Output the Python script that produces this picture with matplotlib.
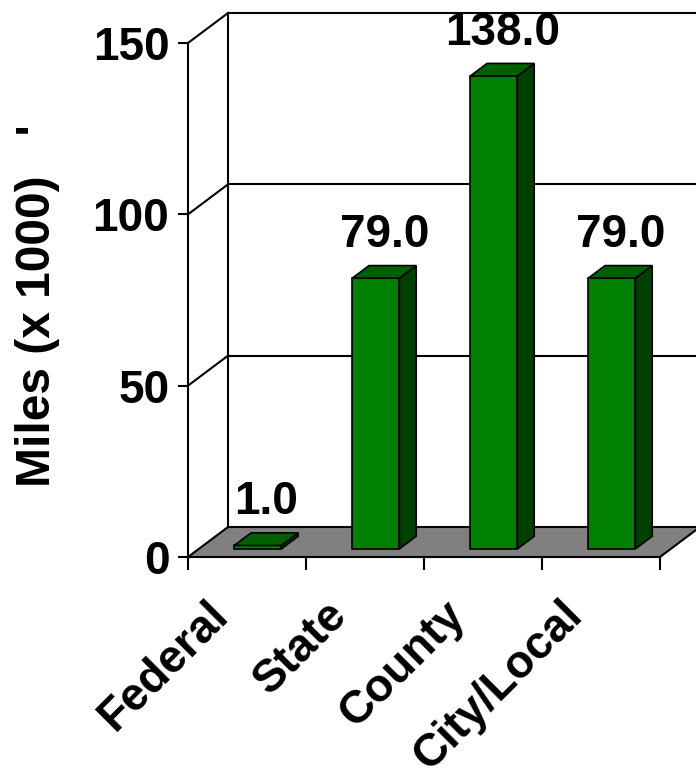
import matplotlib
matplotlib.use("Agg")
import matplotlib.pyplot as plt
from matplotlib.patches import Polygon
from matplotlib.ticker import FixedLocator, NullFormatter

# Road mileage by jurisdiction
categories = ["Federal", "State", "County", "City/Local"]
miles_k = [1.0, 79.0, 138.0, 79.0]
yticks = [0, 50, 100, 150]

FONT = "Liberation Sans"
FS = 33
FRONT = "#008000"
TOP = "#006000"
SIDE = "#004000"
FLOOR = "#808080"

W, H, DPI = 696, 771, 100
fig = plt.figure(figsize=(W / DPI, H / DPI), dpi=DPI)
fig.patch.set_facecolor("white")

# front plane of the oblique 3-D box
ax = fig.add_axes([188 / W, (H - 557) / H, 472 / W, 514 / H])
ax.set_xlim(-0.5, len(categories) - 0.5)
ax.set_ylim(0, 150)
ax.set_facecolor("none")

# depth of the box expressed in data units (40 px right, 30 px up)
px_x = 472 / len(categories)
px_y = 514 / 150
DX, DY = 40 / px_x, 30 / px_y

x0, x1 = -0.5, len(categories) - 0.5
lw = 1.5

# floor
floor = Polygon([(x0, 0), (x1, 0), (x1 + DX, DY), (x0 + DX, DY)], closed=True,
                facecolor=FLOOR, edgecolor="black", lw=lw, clip_on=False, zorder=1)
ax.add_patch(floor)

# back wall edges and gridlines
ax.plot([x0 + DX, x0 + DX], [DY, 150 + DY], color="black", lw=lw, clip_on=False, zorder=1)
for v in yticks[1:]:
    ax.plot([x0 + DX, x1 + DX], [v + DY, v + DY], color="black", lw=lw, clip_on=False, zorder=1)
    ax.plot([x0, x0 + DX], [v, v + DY], color="black", lw=lw, clip_on=False, zorder=1)
ax.plot([x1 + DX, x1 + DX], [DY, 150 + DY], color="black", lw=lw, clip_on=False, zorder=1)

# bars: front face via ax.bar, side and top faces as polygons
d0, dd = 0.27, 0.42
bw = 0.40
ox, oy = d0 * DX, d0 * DY
sx, sy = dd * DX, dd * DY
xs = [i + ox for i in range(len(categories))]
ax.bar(xs, miles_k, width=bw, bottom=oy, color=FRONT, edgecolor="black",
       linewidth=1.2, zorder=3, clip_on=False)
for x, v in zip(xs, miles_k):
    xl, xr = x - bw / 2, x + bw / 2
    yt = oy + v
    side = Polygon([(xr, oy), (xr, yt), (xr + sx, yt + sy), (xr + sx, oy + sy)],
                   closed=True, facecolor=SIDE, edgecolor="black", lw=1.2,
                   clip_on=False, zorder=3)
    top = Polygon([(xl, yt), (xr, yt), (xr + sx, yt + sy), (xl + sx, yt + sy)],
                  closed=True, facecolor=TOP, edgecolor="black", lw=1.2,
                  clip_on=False, zorder=3)
    ax.add_patch(side)
    ax.add_patch(top)
    ax.annotate(f"{v:.1f}", xy=(x + sx / 2, yt + sy), xytext=(0, 13.5),
                textcoords="offset points", ha="center", va="baseline",
                fontsize=FS, fontweight="bold", family=FONT, zorder=5,
                annotation_clip=False)

# axes, ticks and labels
for s in ["top", "right", "bottom"]:
    ax.spines[s].set_visible(False)
ax.spines["left"].set_linewidth(lw)
ax.set_yticks(yticks)
ax.set_yticklabels([str(t) for t in yticks], fontsize=FS, fontweight="bold", family=FONT)
ax.tick_params(axis="y", length=7, width=lw, pad=6.5, direction="out")

ax.xaxis.set_major_locator(FixedLocator([x0 + i for i in range(len(categories) + 1)]))
ax.xaxis.set_major_formatter(NullFormatter())
ax.tick_params(axis="x", which="major", length=9.5, width=lw, direction="out")

# slanted category names below the floor
for i, name in enumerate(categories):
    ax.annotate(name, xy=(i, 0), xytext=(-18, -37), textcoords="offset points",
                rotation=45, rotation_mode="anchor", ha="right", va="center",
                fontsize=FS, fontweight="bold", family=FONT, annotation_clip=False)

ax.set_ylabel("Miles (x 1000)   '", fontsize=34.5, fontweight="bold", family=FONT)
ax.yaxis.set_label_coords(-0.318, 0.49)
ax.yaxis.label.set_va("center")

fig.savefig("out.png", dpi=DPI, facecolor="white")
